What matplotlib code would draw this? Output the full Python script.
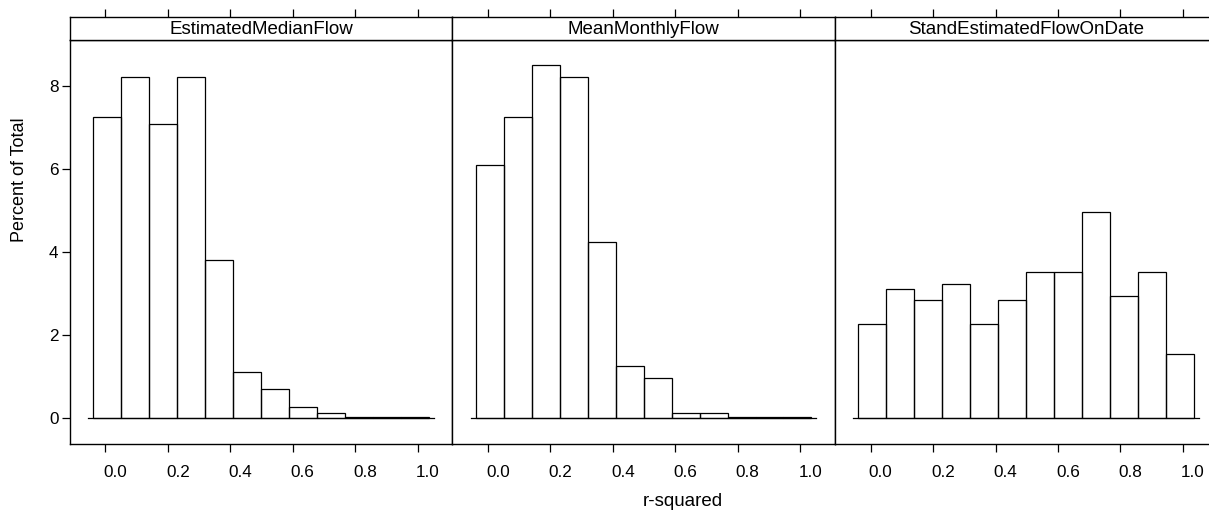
import numpy as np
import matplotlib.pyplot as plt
import matplotlib.transforms as mtransforms

plt.rcParams['font.family'] = ['Liberation Sans', 'DejaVu Sans']

# histogram data (percent of total per bin)
bin_edges = np.linspace(-0.039, 1.036, 13)
panel_names = ["EstimatedMedianFlow", "MeanMonthlyFlow", "StandEstimatedFlowOnDate"]
median_flow = [7.24, 8.21, 7.09, 8.21, 3.81, 1.12, 0.71, 0.28, 0.135, 0.02, 0.02, 0.02]
monthly_flow = [6.09, 7.24, 8.49, 8.21, 4.25, 1.26, 0.97, 0.135, 0.135, 0.02, 0.02, 0.02]
date_flow = [2.27, 3.10, 2.84, 3.24, 2.27, 2.84, 3.52, 3.52, 4.96, 2.95, 3.52, 1.55]
x_ticks = [0.0, 0.2, 0.4, 0.6, 0.8, 1.0]
y_ticks = [0, 2, 4, 6, 8]

W, H = 1209, 511
fig = plt.figure(figsize=(W / 100, H / 100), dpi=100)

panel_left = [69.7, 452.3, 835.0]
panel_w = 382.6
panel_top, panel_bot = 40, 444
strip_top = 17

# tick labels sit a little right of their ticks in the original
shift = mtransforms.ScaledTranslation(0.10, 0, fig.dpi_scale_trans)

for i, (name, vals) in enumerate(zip(panel_names, [median_flow, monthly_flow, date_flow])):
    l = panel_left[i] / W
    ax = fig.add_axes([l, 1 - panel_bot / H, panel_w / W, (panel_bot - panel_top) / H])
    ax.bar(bin_edges[:-1], vals, width=np.diff(bin_edges), align='edge',
           fill=False, edgecolor='black', linewidth=0.9)
    ax.plot([-0.055, 1.051], [0, 0], color='black', linewidth=0.9)
    ax.set_xlim(-0.114, 1.111)
    ax.set_ylim(-0.62, 9.1)
    ax.set_xticks(x_ticks)
    ax.set_xticklabels([f"{t:.1f}" for t in x_ticks], fontsize=12.3)
    ax.tick_params(axis='x', direction='out', length=6, width=0.9, pad=9, top=False)
    for lab in ax.get_xticklabels():
        lab.set_transform(lab.get_transform() + shift)
    if i == 0:
        ax.set_yticks(y_ticks)
        ax.set_yticklabels([str(t) for t in y_ticks], fontsize=12.3)
        ax.tick_params(axis='y', direction='out', length=6, width=0.9, pad=2)
    else:
        ax.set_yticks([])
    for s in ax.spines.values():
        s.set_linewidth(1.0)

    # strip on top
    st = fig.add_axes([l, 1 - panel_top / H, panel_w / W, (panel_top - strip_top) / H])
    st.set_xlim(-0.114, 1.111)
    st.set_ylim(0, 1)
    st.set_yticks([])
    st.set_xticks(x_ticks)
    st.tick_params(axis='x', direction='out', length=6, width=0.9,
                   bottom=False, top=True, labelbottom=False, labeltop=False)
    st.text(0.5, 0.45, name, transform=st.transAxes, ha='center', va='center', fontsize=13.5)
    for s in st.spines.values():
        s.set_linewidth(1.0)

fig.text(20 / W, 1 - 180 / H, "Percent of Total", rotation=90, ha='center', va='center', fontsize=13)
fig.text(683 / W, 1 - 502 / H, "r-squared", ha='center', va='center', fontsize=13.5)

fig.savefig("out.png", dpi=100)
